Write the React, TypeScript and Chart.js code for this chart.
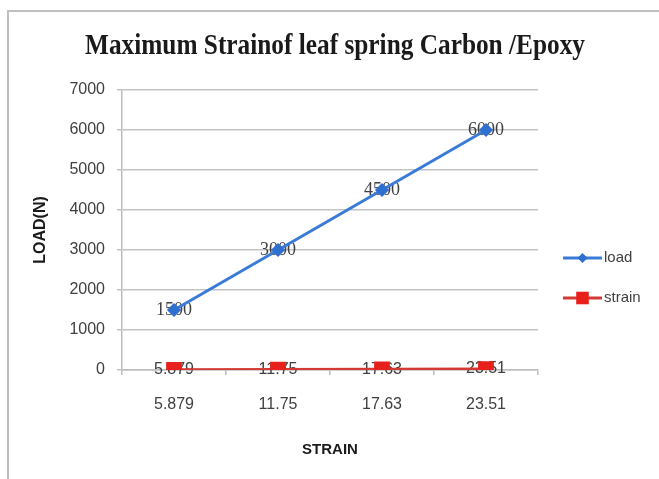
import React, { useEffect, useRef } from "react";
import { Chart, registerables } from "chart.js";

Chart.register(...registerables);

const categories = ["5.879", "11.75", "17.63", "23.51"];
const loadValues = [1500, 3000, 4500, 6000];
const strainValues = [5.879, 11.75, 17.63, 23.51];
const yTicks = [0, 1000, 2000, 3000, 4000, 5000, 6000, 7000];
const titleText = "Maximum Strainof leaf spring Carbon /Epoxy";

const SANS = '"Liberation Sans", Arial, sans-serif';
const SERIF = '"Liberation Serif", "DejaVu Serif", serif';

const valueLabels = {
  id: "valueLabels",
  beforeDatasetsDraw(chart: any) {
    const ctx = chart.ctx;
    ctx.save();
    ctx.textAlign = "center";
    ctx.textBaseline = "middle";
    chart.data.datasets.forEach((ds: any, i: number) => {
      const meta = chart.getDatasetMeta(i);
      ctx.font = ds.labelFont;
      ctx.fillStyle = "#404040";
      meta.data.forEach((el: any, j: number) => {
        ctx.fillText(ds.labelTexts[j], el.x, el.y);
      });
    });
    ctx.restore();
  },
};

const condensedTitle = {
  id: "condensedTitle",
  afterDraw(chart: any) {
    const ctx = chart.ctx;
    ctx.save();
    ctx.font = "bold 30px " + SERIF;
    ctx.fillStyle = "#1a1a1a";
    ctx.textAlign = "center";
    ctx.textBaseline = "middle";
    const w = ctx.measureText(titleText).width;
    const sx = 500 / w;
    ctx.translate(chart.width / 2 + 1, 34);
    ctx.scale(sx, 1);
    ctx.fillText(titleText, 0, 0);
    ctx.restore();
  },
};

const sideLegend = {
  id: "sideLegend",
  afterDraw(chart: any) {
    const ctx = chart.ctx;
    const x0 = chart.chartArea.right + 25;
    const ys = [246, 286];
    ctx.save();
    chart.data.datasets.forEach((ds: any, i: number) => {
      const y = ys[i];
      ctx.strokeStyle = ds.borderColor;
      ctx.lineWidth = 3;
      ctx.beginPath();
      ctx.moveTo(x0, y);
      ctx.lineTo(x0 + 39, y);
      ctx.stroke();
      ctx.fillStyle = ds.pointBackgroundColor;
      const cx = x0 + 19.5;
      const r = ds.pointRadius;
      ctx.beginPath();
      if (ds.pointStyle === "rectRot") {
        ctx.moveTo(cx, y - r);
        ctx.lineTo(cx + r, y);
        ctx.lineTo(cx, y + r);
        ctx.lineTo(cx - r, y);
        ctx.closePath();
      } else {
        const h = r * 0.7;
        ctx.rect(cx - h, y - h, 2 * h, 2 * h);
      }
      ctx.fill();
      ctx.font = "15px " + SANS;
      ctx.fillStyle = "#404040";
      ctx.textAlign = "left";
      ctx.textBaseline = "middle";
      ctx.fillText(ds.label, x0 + 41, y);
    });
    ctx.restore();
  },
};

export default function App() {
  const ref = useRef<HTMLCanvasElement>(null);
  useEffect(() => {
    if (!ref.current) return;
    const chart = new Chart(ref.current, {
      type: "line",
      data: {
        labels: categories,
        datasets: [
          {
            label: "load",
            data: loadValues,
            borderColor: "#3a7bd8",
            backgroundColor: "#3a7bd8",
            pointBackgroundColor: "#2f6fd0",
            pointBorderColor: "#2f6fd0",
            pointStyle: "rectRot",
            pointRadius: 5,
            borderWidth: 3,
            labelTexts: loadValues.map(String),
            labelFont: "18px " + SERIF,
            yAxisID: "y",
          } as any,
          {
            label: "strain",
            data: strainValues,
            borderColor: "#d33a33",
            backgroundColor: "#e8201c",
            pointBackgroundColor: "#e8201c",
            pointBorderColor: "#e8201c",
            pointStyle: "rect",
            pointRadius: 9,
            borderWidth: 3,
            labelTexts: categories,
            labelFont: "16px " + SANS,
            yAxisID: "y",
          } as any,
        ],
      },
      options: {
        animation: false,
        responsive: false,
        maintainAspectRatio: false,
        layout: { padding: { top: 78, left: 0, right: 0, bottom: 0 } },
        plugins: {
          legend: { display: false },
          tooltip: { enabled: false },
          title: { display: false },
        },
        scales: {
          x: {
            offset: true,
            grid: { display: true, drawOnChartArea: false, offset: true, tickLength: 5, color: "#bdbdbd", lineWidth: 1.5 },
            border: { display: true, color: "#bdbdbd", width: 1.5 },
            ticks: { color: "#404040", font: { family: SANS, size: 16 }, padding: 20 },
            title: {
              display: true,
              text: "STRAIN",
              color: "#1a1a1a",
              font: { family: SANS, size: 15, weight: "bold" },
              padding: { top: 0, bottom: 20 },
            },
            afterFit(s: any) {
              s.height = 109;
            },
          },
          y: {
            min: 0,
            max: 7000,
            afterBuildTicks(s: any) {
              s.ticks = yTicks.map((v) => ({ value: v }));
            },
            grid: { color: "#c4c4c4", lineWidth: 1.5, tickLength: 5 },
            border: { display: true, color: "#bdbdbd", width: 1.5 },
            ticks: {
              color: "#404040",
              font: { family: SANS, size: 16 },
              padding: 12,
              callback: (v: any) => String(v),
            },
            title: {
              display: true,
              text: "LOAD(N)",
              color: "#1a1a1a",
              font: { family: SANS, size: 16, weight: "bold" },
              padding: { top: 22, bottom: 0 },
            },
            afterFit(s: any) {
              s.width = 113;
            },
          },
          yRight: {
            position: "right",
            display: true,
            grid: { display: false, drawTicks: false },
            border: { display: false },
            ticks: { display: false },
            afterFit(s: any) {
              s.width = 121;
            },
          },
        },
      },
      plugins: [valueLabels, condensedTitle, sideLegend],
    });
    return () => chart.destroy();
  }, []);
  return (
    <div
      style={{
        position: "absolute",
        left: 7,
        top: 10,
        width: 652,
        height: 469,
        borderLeft: "2px solid #bfbfbf",
        borderTop: "2px solid #bfbfbf",
        background: "#fff",
      }}
    >
      <canvas ref={ref} width={650} height={467} style={{ display: "block" }} />
    </div>
  );
}
